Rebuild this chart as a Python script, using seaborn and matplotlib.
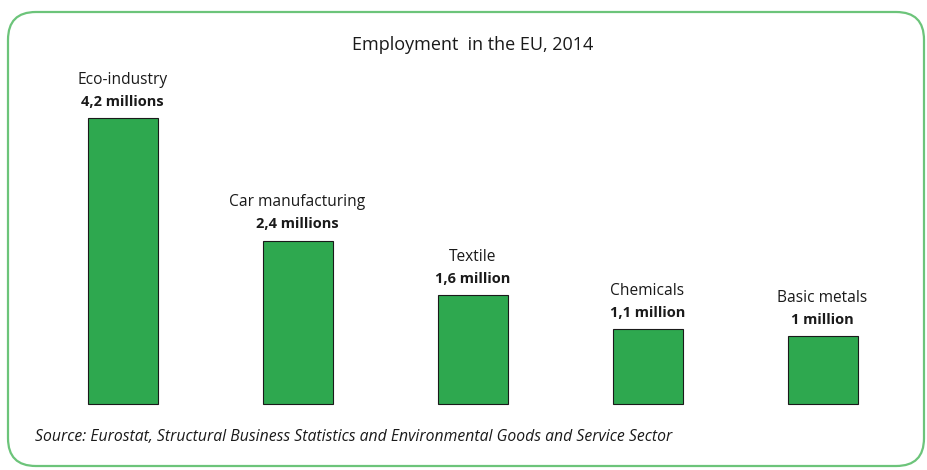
import matplotlib
matplotlib.use("Agg")
import matplotlib.pyplot as plt
from matplotlib.patches import FancyBboxPatch
import seaborn as sns
import pandas as pd

categories = ["Eco-industry", "Car manufacturing", "Textile", "Chemicals", "Basic metals"]
values = [4.2, 2.4, 1.6, 1.1, 1.0]
value_labels = ["4,2 millions", "2,4 millions", "1,6 million", "1,1 million", "1 million"]
title = "Employment  in the EU, 2014"
source = "Source: Eurostat, Structural Business Statistics and Environmental Goods and Service Sector"

sns.set_style("white")
plt.rcParams['font.family'] = ['Open Sans', 'DejaVu Sans']

df = pd.DataFrame({"cat": categories, "val": values})

W, H = 927, 470
fig = plt.figure(figsize=(W / 100, H / 100), dpi=100)
fig.patch.set_facecolor("white")

# rounded border
border = FancyBboxPatch((8 / W, 4 / H), 916 / W, 454 / H,
                        boxstyle="round,pad=0,rounding_size=0.03",
                        transform=fig.transFigure, fill=False,
                        edgecolor="#6cc47a", linewidth=1.6, mutation_aspect=W / H)
fig.patches.append(border)

ax = fig.add_axes([0, 0, 1, 1])
ax.patch.set_alpha(0)
sns.barplot(data=df, x="cat", y="val", ax=ax, color="#2ea84f", width=0.4,
            edgecolor="#1a1a1a", linewidth=0.8, saturation=1)

px_per_unit_x = 175.0
center0 = 122.5
ax.set_xlim(-center0 / px_per_unit_x, (W - center0) / px_per_unit_x)
px_per_unit_y = 68.0
bottom_px = 66.0
ax.set_ylim(-bottom_px / px_per_unit_y, (H - bottom_px) / px_per_unit_y)
ax.axis("off")

for i, (c, v, vl) in enumerate(zip(categories, values, value_labels)):
    ax.annotate(vl, (i, v), xytext=(0, 16.5), textcoords="offset pixels",
                ha="center", va="center", fontsize=10.5, fontweight="bold", color="#1a1a1a")
    ax.annotate(c, (i, v), xytext=(0, 38.5), textcoords="offset pixels",
                ha="center", va="center", fontsize=11.2, color="#1a1a1a")

fig.text(473 / W, 1 - 45 / H, title, ha="center", va="center", fontsize=13, color="#1a1a1a")
fig.text(35 / W, 1 - 437 / H, source, ha="left", va="center", fontsize=11.3,
         style="italic", color="#1a1a1a", family=['Open Sans', 'DejaVu Sans'])

fig.savefig("out.png", dpi=100, facecolor="white")
